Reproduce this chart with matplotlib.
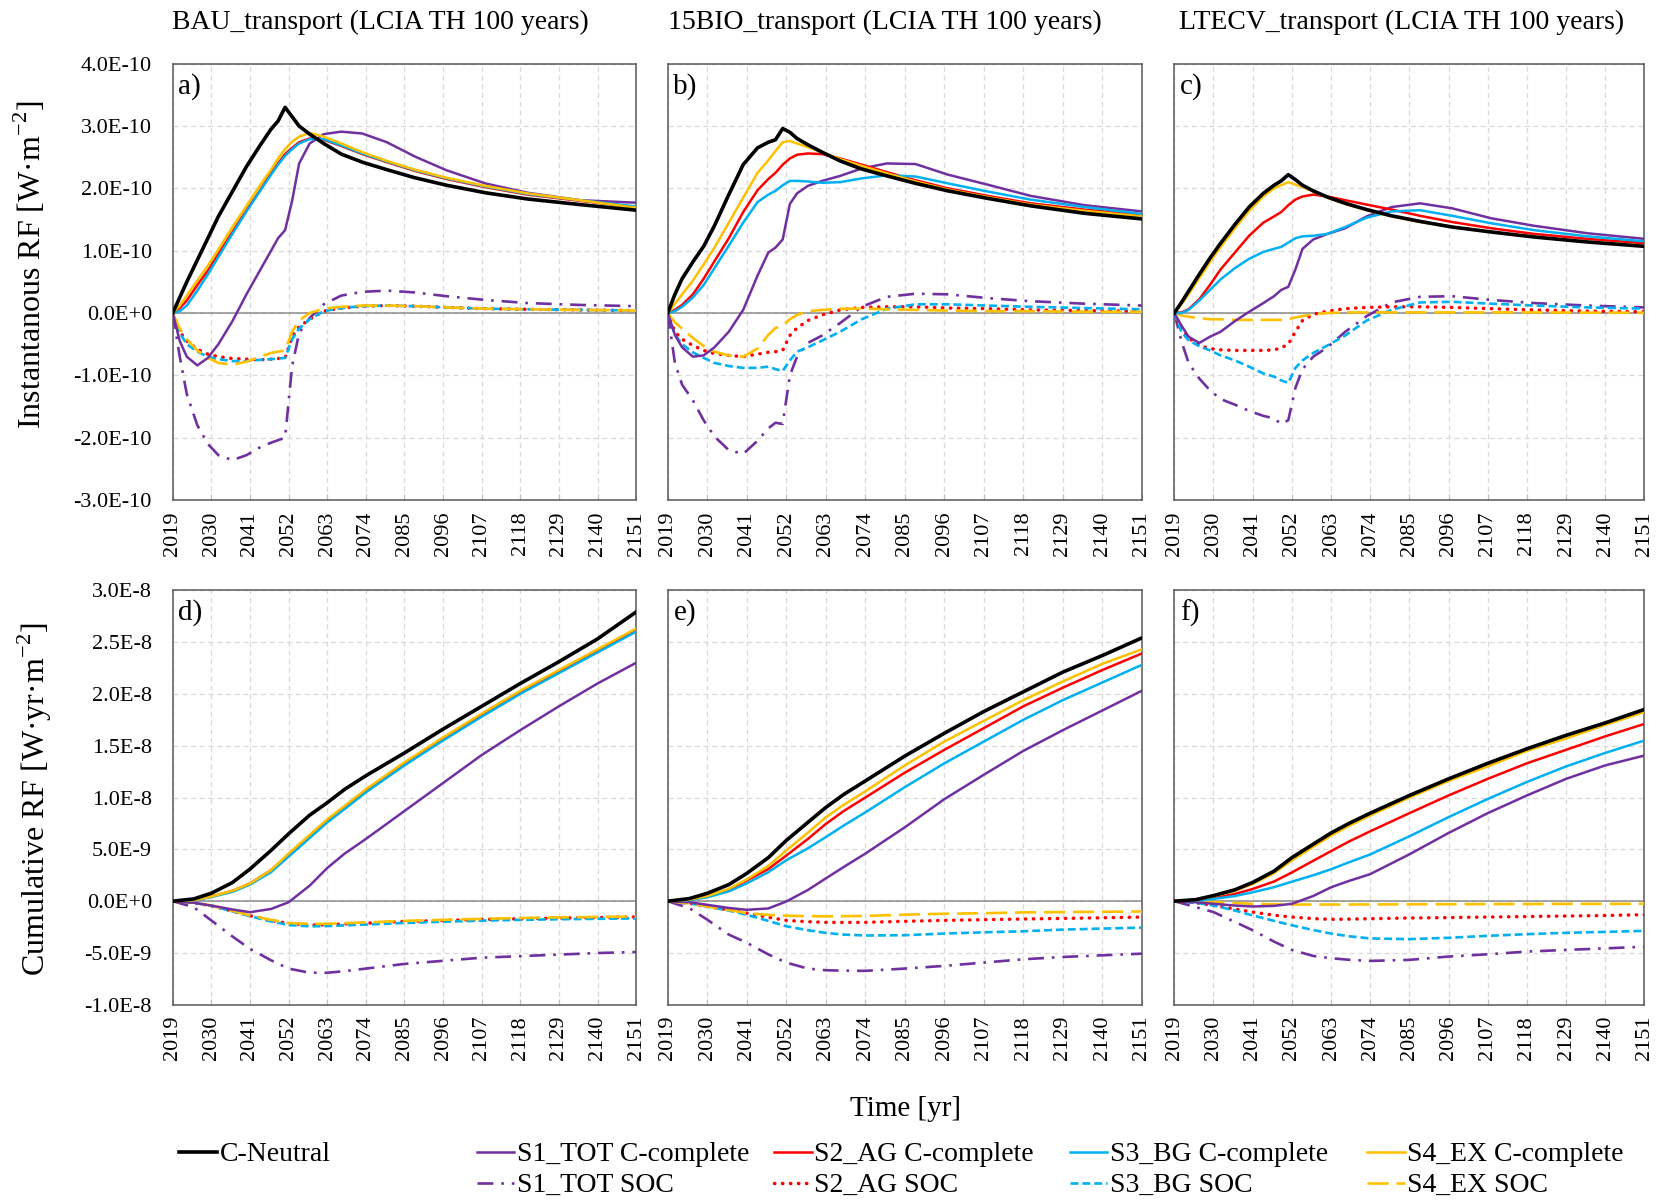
import math
import matplotlib
matplotlib.use("Agg")
import matplotlib.pyplot as plt
from matplotlib.ticker import FuncFormatter
from matplotlib.lines import Line2D

plt.rcParams['font.family'] = ['Liberation Serif', 'DejaVu Serif']
plt.rcParams['mathtext.fontset'] = 'custom'
plt.rcParams['mathtext.rm'] = 'Liberation Serif'

yrs_top = [2019, 2021, 2023, 2026, 2029, 2032, 2036, 2040, 2044, 2047, 2049, 2051, 2053,
           2055, 2058, 2062, 2067, 2073, 2080, 2088, 2097, 2108, 2120, 2135, 2151]
yrs_bot = [2019, 2025, 2030, 2036, 2041, 2047, 2052, 2058, 2063, 2068, 2074, 2085, 2096,
           2107, 2118, 2129, 2140, 2151]

# ---- instantaneous RF, units of 1E-10 W/m2 ----
a_neutral = [0, 0.25, 0.5, 0.85, 1.2, 1.55, 1.95, 2.35, 2.7, 2.95, 3.08, 3.3, 3.15, 3.0, 2.87,
             2.72, 2.55, 2.42, 2.3, 2.17, 2.05, 1.93, 1.83, 1.74, 1.65]
a_s1 = [0, -0.45, -0.7, -0.84, -0.72, -0.5, -0.13, 0.3, 0.7, 1.0, 1.2, 1.33, 1.8, 2.4, 2.72,
        2.87, 2.91, 2.88, 2.74, 2.51, 2.29, 2.08, 1.93, 1.81, 1.77]
a_s2 = [0, 0.08, 0.2, 0.45, 0.68, 0.95, 1.3, 1.65, 1.98, 2.25, 2.4, 2.55, 2.65, 2.74, 2.8,
        2.78, 2.68, 2.55, 2.42, 2.28, 2.15, 2.02, 1.9, 1.8, 1.7]
a_s3 = [0, 0.03, 0.12, 0.36, 0.62, 0.9, 1.27, 1.63, 1.97, 2.22, 2.38, 2.52, 2.63, 2.72, 2.79,
        2.79, 2.69, 2.56, 2.43, 2.29, 2.16, 2.03, 1.91, 1.81, 1.71]
a_s4 = [0, 0.12, 0.28, 0.52, 0.76, 1.02, 1.38, 1.72, 2.06, 2.3, 2.48, 2.63, 2.75, 2.83, 2.89,
        2.83, 2.72, 2.58, 2.44, 2.3, 2.17, 2.04, 1.92, 1.81, 1.69]
a_s1soc = [0, -0.7, -1.3, -1.8, -2.1, -2.28, -2.36, -2.28, -2.15, -2.08, -2.04, -2.0, -0.85,
           -0.32, -0.08, 0.14, 0.28, 0.34, 0.36, 0.33, 0.27, 0.21, 0.16, 0.13, 0.11]
a_s2soc = [0, -0.3, -0.45, -0.58, -0.66, -0.7, -0.73, -0.74, -0.75, -0.74, -0.73, -0.72, -0.38,
           -0.22, -0.1, 0.03, 0.08, 0.11, 0.12, 0.11, 0.09, 0.07, 0.06, 0.05, 0.04]
a_s3soc = [0, -0.32, -0.5, -0.62, -0.7, -0.74, -0.77, -0.77, -0.75, -0.74, -0.73, -0.72, -0.42,
           -0.25, -0.1, 0.03, 0.08, 0.11, 0.12, 0.11, 0.09, 0.07, 0.06, 0.05, 0.04]
a_s4soc = [0, -0.25, -0.42, -0.6, -0.72, -0.8, -0.83, -0.78, -0.7, -0.64, -0.62, -0.6, -0.3,
           -0.12, 0.0, 0.07, 0.1, 0.12, 0.12, 0.11, 0.09, 0.07, 0.06, 0.05, 0.04]

b_neutral = [0, 0.3, 0.55, 0.82, 1.07, 1.4, 1.9, 2.38, 2.65, 2.74, 2.78, 2.96, 2.9, 2.8, 2.7,
             2.58, 2.44, 2.31, 2.2, 2.08, 1.96, 1.84, 1.72, 1.6, 1.51]
b_s1 = [0, -0.35, -0.55, -0.7, -0.68, -0.55, -0.3, 0.05, 0.6, 0.97, 1.05, 1.18, 1.75, 1.92,
        2.04, 2.12, 2.2, 2.32, 2.4, 2.39, 2.22, 2.06, 1.88, 1.73, 1.63]
b_s2 = [0, 0.05, 0.13, 0.3, 0.55, 0.83, 1.2, 1.62, 1.97, 2.15, 2.25, 2.38, 2.48, 2.54, 2.56,
        2.55, 2.48, 2.38, 2.26, 2.13, 2.0, 1.88, 1.76, 1.66, 1.57]
b_s3 = [0, 0.03, 0.1, 0.25, 0.45, 0.72, 1.08, 1.45, 1.78, 1.9, 1.96, 2.05, 2.12, 2.12, 2.11,
        2.09, 2.1, 2.16, 2.21, 2.19, 2.08, 1.95, 1.82, 1.7, 1.59]
b_s4 = [0, 0.15, 0.3, 0.52, 0.78, 1.05, 1.45, 1.85, 2.25, 2.45, 2.6, 2.74, 2.76, 2.72, 2.66,
        2.58, 2.47, 2.36, 2.24, 2.11, 1.98, 1.86, 1.74, 1.64, 1.55]
b_s1soc = [0, -0.8, -1.15, -1.4, -1.72, -1.98, -2.2, -2.26, -2.05, -1.85, -1.76, -1.78, -1.0,
           -0.7, -0.48, -0.36, -0.16, 0.1, 0.26, 0.31, 0.3, 0.24, 0.19, 0.15, 0.12]
b_s2soc = [0, -0.3, -0.42, -0.52, -0.6, -0.65, -0.68, -0.7, -0.66, -0.63, -0.62, -0.6, -0.36,
           -0.24, -0.12, -0.03, 0.05, 0.09, 0.1, 0.1, 0.08, 0.07, 0.05, 0.04, 0.03]
b_s3soc = [0, -0.35, -0.5, -0.63, -0.72, -0.8, -0.85, -0.88, -0.88, -0.86, -0.9, -0.93, -0.76,
           -0.62, -0.55, -0.44, -0.3, -0.1, 0.07, 0.14, 0.14, 0.12, 0.1, 0.08, 0.06]
b_s4soc = [0, -0.15, -0.25, -0.4, -0.53, -0.62, -0.68, -0.7, -0.57, -0.35, -0.24, -0.2, -0.1,
           -0.03, 0.03, 0.05, 0.07, 0.07, 0.06, 0.05, 0.04, 0.03, 0.03, 0.02, 0.02]

c_neutral = [0, 0.17, 0.35, 0.62, 0.88, 1.12, 1.42, 1.7, 1.92, 2.05, 2.12, 2.22, 2.14, 2.05,
             1.96, 1.86, 1.76, 1.66, 1.56, 1.47, 1.38, 1.3, 1.22, 1.14, 1.07]
c_s1 = [0, -0.2, -0.38, -0.48, -0.38, -0.3, -0.13, 0.02, 0.16, 0.27, 0.37, 0.42, 0.7, 1.03,
        1.18, 1.27, 1.36, 1.55, 1.7, 1.76, 1.68, 1.52, 1.4, 1.28, 1.19]
c_s2 = [0, 0.01, 0.06, 0.22, 0.45, 0.7, 0.97, 1.24, 1.45, 1.55, 1.62, 1.73, 1.82, 1.87, 1.9,
        1.87, 1.81, 1.74, 1.66, 1.56, 1.46, 1.36, 1.27, 1.19, 1.12]
c_s3 = [0, 0.0, 0.05, 0.2, 0.37, 0.54, 0.72, 0.87, 0.98, 1.03, 1.06, 1.13, 1.2, 1.23, 1.24,
        1.27, 1.38, 1.53, 1.63, 1.65, 1.56, 1.44, 1.33, 1.23, 1.15]
c_s4 = [0, 0.14, 0.3, 0.56, 0.82, 1.06, 1.36, 1.64, 1.87, 2.0, 2.05, 2.1, 2.06, 2.02, 1.95,
        1.85, 1.75, 1.65, 1.55, 1.46, 1.38, 1.3, 1.22, 1.14, 1.08]
c_s1soc = [0, -0.45, -0.8, -1.05, -1.24, -1.38, -1.47, -1.57, -1.65, -1.69, -1.78, -1.72, -1.2,
           -0.9, -0.7, -0.55, -0.3, -0.05, 0.17, 0.26, 0.27, 0.21, 0.16, 0.12, 0.09]
c_s2soc = [0, -0.25, -0.4, -0.52, -0.57, -0.59, -0.6, -0.6, -0.6, -0.59, -0.56, -0.5, -0.3,
           -0.12, -0.02, 0.03, 0.07, 0.09, 0.1, 0.1, 0.09, 0.07, 0.05, 0.03, 0.02]
c_s3soc = [0, -0.3, -0.44, -0.53, -0.6, -0.68, -0.76, -0.86, -0.97, -1.02, -1.08, -1.12, -0.88,
           -0.76, -0.64, -0.52, -0.36, -0.12, 0.05, 0.17, 0.18, 0.15, 0.12, 0.09, 0.07]
c_s4soc = [0, -0.04, -0.06, -0.08, -0.1, -0.1, -0.11, -0.11, -0.11, -0.11, -0.11, -0.1, -0.07,
           -0.05, -0.02, 0.0, 0.01, 0.01, 0.01, 0.01, 0.01, 0.01, 0.01, 0.005, 0.005]

# ---- cumulative RF, units of 1E-9 W yr/m2 ----
d_neutral = [0, 0.22, 0.77, 1.8, 3.1, 4.9, 6.5, 8.3, 9.5, 10.8, 12.1, 14.3, 16.6, 18.8, 21.0,
             23.1, 25.3, 27.9]
d_s1 = [0, -0.15, -0.42, -0.8, -1.06, -0.75, -0.1, 1.5, 3.2, 4.6, 6.0, 8.7, 11.4, 14.1, 16.5,
        18.8, 21.0, 23.0]
d_s2 = [0, 0.1, 0.45, 1.0, 1.7, 3.0, 4.5, 6.3, 7.8, 9.1, 10.7, 13.3, 15.7, 18.0, 20.2, 22.2,
        24.2, 26.2]
d_s3 = [0, 0.08, 0.4, 0.9, 1.6, 2.8, 4.3, 6.1, 7.6, 8.9, 10.5, 13.1, 15.5, 17.8, 20.0, 22.0,
        24.0, 26.0]
d_s4 = [0, 0.1, 0.45, 1.0, 1.7, 3.0, 4.6, 6.4, 7.9, 9.2, 10.8, 13.4, 15.8, 18.1, 20.3, 22.3,
        24.3, 26.3]
d_s1soc = [0, -0.58, -1.86, -3.4, -4.6, -5.7, -6.5, -6.9, -6.9, -6.75, -6.5, -6.05, -5.75,
           -5.45, -5.3, -5.15, -5.0, -4.9]
d_s2soc = [0, -0.15, -0.45, -0.95, -1.4, -1.85, -2.15, -2.3, -2.28, -2.2, -2.12, -1.96, -1.86,
           -1.76, -1.7, -1.63, -1.58, -1.52]
d_s3soc = [0, -0.15, -0.45, -0.98, -1.45, -1.95, -2.3, -2.42, -2.4, -2.33, -2.25, -2.1, -1.98,
           -1.88, -1.8, -1.74, -1.7, -1.66]
d_s4soc = [0, -0.12, -0.42, -0.92, -1.38, -1.8, -2.1, -2.2, -2.18, -2.12, -2.05, -1.9, -1.8,
           -1.7, -1.62, -1.56, -1.52, -1.48]

e_neutral = [0, 0.25, 0.76, 1.6, 2.68, 4.2, 5.86, 7.6, 9.04, 10.3, 11.6, 14.0, 16.2, 18.3, 20.2,
             22.1, 23.7, 25.4]
e_s1 = [0, -0.1, -0.35, -0.65, -0.83, -0.7, -0.03, 1.08, 2.2, 3.3, 4.59, 7.13, 9.84, 12.2,
        14.5, 16.5, 18.4, 20.3]
e_s2 = [0, 0.13, 0.45, 1.1, 2.0, 3.1, 4.4, 6.0, 7.45, 8.7, 10.0, 12.4, 14.6, 16.7, 18.8, 20.6,
        22.3, 23.9]
e_s3 = [0, 0.1, 0.38, 0.95, 1.72, 2.8, 3.95, 5.1, 6.18, 7.3, 8.57, 11.0, 13.3, 15.4, 17.5,
        19.4, 21.1, 22.8]
e_s4 = [0, 0.15, 0.5, 1.2, 2.1, 3.4, 4.9, 6.6, 8.1, 9.3, 10.6, 13.1, 15.4, 17.4, 19.4, 21.2,
        22.9, 24.3]
e_s1soc = [0, -0.67, -1.78, -3.22, -4.01, -5.13, -5.92, -6.5, -6.66, -6.7, -6.72, -6.5, -6.24,
           -5.92, -5.6, -5.38, -5.22, -5.06]
e_s2soc = [0, -0.2, -0.51, -0.85, -1.15, -1.55, -1.85, -1.98, -2.04, -2.05, -2.04, -1.94,
           -1.85, -1.78, -1.72, -1.66, -1.6, -1.53]
e_s3soc = [0, -0.2, -0.51, -0.9, -1.31, -1.9, -2.42, -2.8, -3.06, -3.22, -3.31, -3.28, -3.12,
           -3.0, -2.9, -2.74, -2.64, -2.55]
e_s4soc = [0, -0.2, -0.51, -0.85, -1.15, -1.32, -1.4, -1.44, -1.46, -1.45, -1.42, -1.3, -1.21,
           -1.16, -1.08, -1.05, -1.02, -0.99]

f_neutral = [0, 0.15, 0.54, 1.1, 1.81, 2.9, 4.2, 5.5, 6.58, 7.5, 8.49, 10.2, 11.8, 13.3, 14.7,
             16.0, 17.2, 18.5]
f_s1 = [0, -0.1, -0.25, -0.42, -0.51, -0.45, -0.25, 0.5, 1.34, 1.95, 2.61, 4.52, 6.58, 8.49,
        10.2, 11.8, 13.1, 14.05]
f_s2 = [0, 0.08, 0.29, 0.7, 1.18, 1.9, 2.77, 3.9, 4.83, 5.75, 6.74, 8.49, 10.2, 11.8, 13.3,
        14.6, 15.9, 17.1]
f_s3 = [0, 0.06, 0.22, 0.5, 0.86, 1.35, 1.88, 2.5, 3.08, 3.75, 4.51, 6.26, 8.11, 9.86, 11.5,
        13.0, 14.3, 15.5]
f_s4 = [0, 0.12, 0.48, 1.0, 1.65, 2.7, 3.94, 5.25, 6.33, 7.25, 8.27, 10.0, 11.6, 13.0, 14.5,
        15.7, 17.0, 18.25]
f_s1soc = [0, -0.57, -1.05, -2.0, -2.8, -3.9, -4.7, -5.28, -5.5, -5.65, -5.76, -5.66, -5.34,
           -5.12, -4.86, -4.7, -4.55, -4.39]
f_s2soc = [0, -0.15, -0.41, -0.75, -1.05, -1.35, -1.53, -1.68, -1.75, -1.73, -1.69, -1.62,
           -1.58, -1.53, -1.48, -1.43, -1.38, -1.3]
f_s3soc = [0, -0.15, -0.41, -0.9, -1.37, -1.9, -2.32, -2.78, -3.12, -3.38, -3.59, -3.66, -3.53,
           -3.34, -3.18, -3.05, -2.96, -2.86]
f_s4soc = [0, -0.05, -0.1, -0.18, -0.25, -0.3, -0.32, -0.32, -0.32, -0.32, -0.31, -0.3, -0.29,
           -0.28, -0.27, -0.26, -0.26, -0.25]

titles = ["BAU_transport (LCIA TH 100 years)", "15BIO_transport (LCIA TH 100 years)",
          "LTECV_transport (LCIA TH 100 years)"]
panel_tags = ["a)", "b)", "c)", "d)", "e)", "f)"]
series_names = ["C-Neutral", "S1_TOT C-complete", "S2_AG C-complete", "S3_BG C-complete",
                "S4_EX C-complete", "S1_TOT SOC", "S2_AG SOC", "S3_BG SOC", "S4_EX SOC"]
xticks = list(range(2019, 2152, 11))

PURPLE = "#7030A0"
RED = "#FF0000"
CYAN = "#00B0F0"
GOLD = "#FFC000"
styles = [
    dict(color="black", lw=2.6, ls="-"),
    dict(color=PURPLE, lw=1.8, ls="-"),
    dict(color=RED, lw=1.8, ls="-"),
    dict(color=CYAN, lw=1.8, ls="-"),
    dict(color=GOLD, lw=1.8, ls="-"),
    dict(color=PURPLE, lw=1.9, ls=(0, (6, 3, 1, 3))),
    dict(color=RED, lw=2.5, ls=(0, (0.1, 2.2)), dash_capstyle="round"),
    dict(color=CYAN, lw=1.9, ls=(0, (3, 1.5))),
    dict(color=GOLD, lw=1.9, ls=(0, (8, 3))),
]

panels = [
    (yrs_top, 1e-10, [a_neutral, a_s1, a_s2, a_s3, a_s4, a_s1soc, a_s2soc, a_s3soc, a_s4soc]),
    (yrs_top, 1e-10, [b_neutral, b_s1, b_s2, b_s3, b_s4, b_s1soc, b_s2soc, b_s3soc, b_s4soc]),
    (yrs_top, 1e-10, [c_neutral, c_s1, c_s2, c_s3, c_s4, c_s1soc, c_s2soc, c_s3soc, c_s4soc]),
    (yrs_bot, 1e-9, [d_neutral, d_s1, d_s2, d_s3, d_s4, d_s1soc, d_s2soc, d_s3soc, d_s4soc]),
    (yrs_bot, 1e-9, [e_neutral, e_s1, e_s2, e_s3, e_s4, e_s1soc, e_s2soc, e_s3soc, e_s4soc]),
    (yrs_bot, 1e-9, [f_neutral, f_s1, f_s2, f_s3, f_s4, f_s1soc, f_s2soc, f_s3soc, f_s4soc]),
]


def sci(v, pos=None):
    if abs(v) < 1e-20:
        return "0.0E+0"
    e = math.floor(math.log10(abs(v)) + 1e-9)
    return "%.1fE%d" % (v / 10 ** e, e)


fig = plt.figure(figsize=(16.61, 12.02), dpi=100)
lefts = [0.104, 0.402, 0.707]
widths = [0.279, 0.2855, 0.283]
rows = [(0.584, 0.363), (0.164, 0.345)]

for i, (yrs, unit, series) in enumerate(panels):
    r, c = divmod(i, 3)
    ax = fig.add_axes([lefts[c], rows[r][0], widths[c], rows[r][1]])
    ax.axhline(0, color="#8c8c8c", lw=1.1, zorder=1)
    # SOC curves first, black on top
    order = [5, 6, 7, 8, 1, 2, 3, 4, 0]
    for k in order:
        ax.plot(yrs, [v * unit for v in series[k]], zorder=3, **styles[k])
    ax.set_xlim(2019, 2151)
    ax.set_xticks(xticks)
    ax.set_xticklabels([str(t) for t in xticks], rotation=90, fontsize=16)
    if r == 0:
        ax.set_ylim(-3e-10, 4e-10)
        ax.set_yticks([k * 1e-10 for k in range(-3, 5)])
    else:
        ax.set_ylim(-1e-8, 3e-8)
        ax.set_yticks([k * 5e-9 for k in range(-2, 7)])
    ax.yaxis.set_major_formatter(FuncFormatter(sci))
    ax.tick_params(axis="y", length=0, labelsize=16, pad=15)
    ax.tick_params(axis="x", direction="in", length=4, color="#bfbfbf", pad=8)
    if c != 0:
        ax.tick_params(axis="y", labelleft=False)
    ax.grid(True, color="#d9d9d9", ls=(0, (4, 3)), lw=0.9)
    ax.set_axisbelow(True)
    for sp in ax.spines.values():
        sp.set_color("#595959")
        sp.set_linewidth(1.1)
    ax.text(0.012, 0.978, panel_tags[i], transform=ax.transAxes, fontsize=21,
            va="top", ha="left")

title_x = [0.229, 0.533, 0.844]
for t, x in zip(titles, title_x):
    fig.text(x, 0.981, t, fontsize=20, ha="center", va="center")

fig.text(0.018, 0.78, "Instantanous RF [W·m$^{-2}$]", rotation=90, fontsize=23,
         ha="center", va="center")
fig.text(0.021, 0.335, "Cumulative RF [W·yr·m$^{-2}$]", rotation=90, fontsize=23,
         ha="center", va="center")
fig.text(0.545, 0.077, "Time [yr]", fontsize=21, ha="center", va="center")

# legend: five columns placed like the original
handles = [Line2D([], [], **s) for s in styles]
col_x = [0.108, 0.287, 0.466, 0.644, 0.823]
col_items = [[0], [1, 5], [2, 6], [3, 7], [4, 8]]
for x, items in zip(col_x, col_items):
    fig.legend([handles[k] for k in items], [series_names[k] for k in items],
               loc="upper left", bbox_to_anchor=(x, 0.050), frameon=False,
               fontsize=20, handlelength=1.35, handletextpad=0.1, borderpad=0,
               borderaxespad=0, labelspacing=0.2)

fig.savefig("out.png", dpi=100)
